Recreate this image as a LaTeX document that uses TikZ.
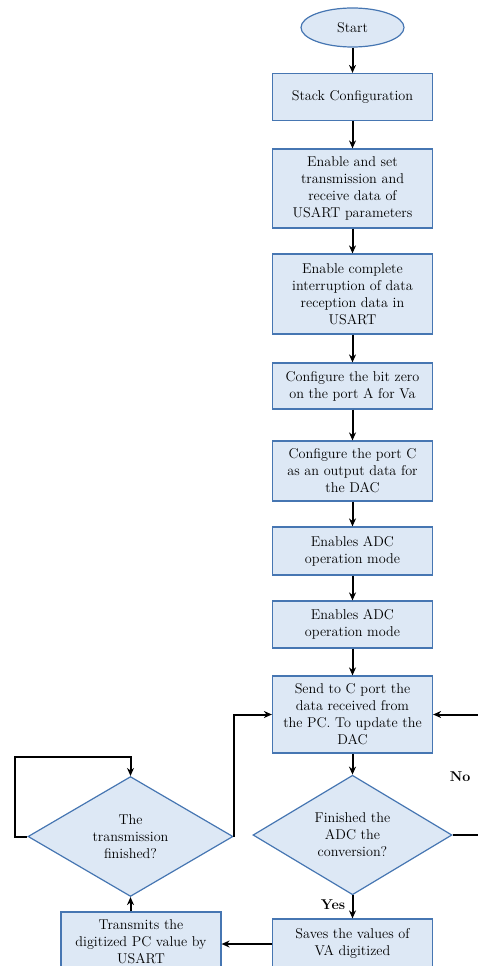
\documentclass[tikz,border=0pt]{standalone}
\usetikzlibrary{shapes.geometric,arrows.meta,calc}
\definecolor{boxfill}{RGB}{221,232,245}
\definecolor{boxline}{RGB}{70,118,178}
\begin{document}
\begin{tikzpicture}[x=1pt,y=-1pt,
  base/.style={draw=boxline,fill=boxfill,line width=1.2pt,align=center,inner sep=0pt,
    font=\fontsize{14.2}{17}\selectfont},
  proc/.style={base,rectangle,minimum width=160pt},
  term/.style={base,ellipse,minimum width=103pt,minimum height=39pt},
  dec/.style={base,diamond},
  arr/.style={line width=2pt,-{Stealth[length=8pt,width=7pt]}},
  ln/.style={line width=2pt},
  lab/.style={font=\fontsize{14.2}{17}\selectfont\bfseries}]
\useasboundingbox (0,0) rectangle (478,966);
\clip (0,0) rectangle (478,966);
\node[term] (start) at (352.5,27.5) {Start};
\node[proc,minimum height=47pt] (stack) at (352.5,97) {Stack Configuration};
\node[proc,minimum height=79pt] (c3) at (352.5,188.5) {Enable and set\\transmission and\\receive data of\\USART parameters};
\node[proc,minimum height=80pt] (c4) at (352.5,294) {Enable complete\\interruption of data\\reception data in\\USART};
\node[proc,minimum height=46pt] (c5) at (352.5,386) {Configure the bit zero\\on the port A for Va};
\node[proc,minimum height=60pt] (c6) at (352.5,471) {Configure the port C\\as an output data for\\the DAC};
\node[proc,minimum height=48pt] (c7) at (352.5,551) {Enables ADC\\operation mode};
\node[proc,minimum height=47pt] (c8) at (352.5,624.5) {Enables ADC\\operation mode};
\node[proc,minimum height=77pt] (c9) at (352.5,714.5) {Send to C port the\\data received from\\the PC. To update the\\DAC};
\node[dec,minimum width=199pt,minimum height=114pt] (d1) at (352.5,835) {Finished the\\ADC the\\conversion?};
\node[dec,minimum width=205pt,minimum height=109pt] (d2) at (130.5,836.5) {The\\transmission\\finished?};
\node[proc,minimum height=49pt] (saves) at (352.5,943.5) {Saves the values of\\VA digitized};
\node[proc,minimum height=60pt] (tr) at (141,942) {Transmits the\\digitized PC value by\\USART};
\coordinate (rt) at (478,835);
\draw[arr] (start) -- (stack);
\draw[arr] (stack) -- (c3);
\draw[arr] (c3) -- (c4);
\draw[arr] (c4) -- (c5);
\draw[arr] (c5) -- (c6);
\draw[arr] (c6) -- (c7);
\draw[arr] (c7) -- (c8);
\draw[arr] (c8) -- (c9);
\draw[arr] (c9) -- (d1);
\draw[arr] (d1.south) -- (saves.north);
\node[lab] (yes) at (333,905) {Yes};
\draw[ln] (d1.east) -- (rt);
\draw[arr] (c9.east -| rt) -- (c9.east);
\node[lab] (no) at (460,777) {No};
\draw[arr] (saves.west |- 0,944) -- (tr.east |- 0,944);
\draw[arr] (tr.north -| d2.south) -- (d2.south);
\draw[arr] (d2.east) |- (c9.west);
\draw[arr] (d2.west) -- ++(-12,0) |- ($(d2.north)+(0,-19)$) -- (d2.north);
\end{tikzpicture}
\end{document}
